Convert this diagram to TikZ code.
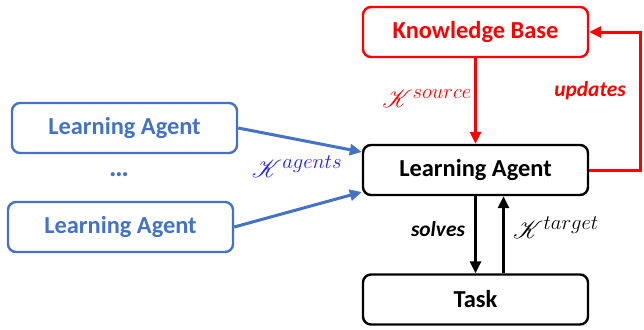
\documentclass[tikz,border=0pt]{standalone}
\usepackage{mathrsfs}
\usepackage{fontspec}
\setmainfont{Carlito}
\usetikzlibrary{arrows.meta}
\definecolor{agentblue}{RGB}{68,114,196}
\definecolor{kbred}{RGB}{255,0,0}
\definecolor{mathblue}{RGB}{30,30,255}
\tikzset{
  box/.style={draw, line width=2.4bp, rounded corners=8bp, minimum width=225bp,
    minimum height=50bp, font=\fontsize{24.5}{28}\selectfont\bfseries},
  flow/.style={line width=3bp, -{Triangle[length=12bp,width=11bp]}},
  lbl/.style={font=\fontsize{21.5}{24}\selectfont\bfseries\itshape},
  mlbl/.style={font=\fontsize{28}{30}\selectfont}
}
\begin{document}
\begin{tikzpicture}[x=1bp,y=-1bp]
    \useasboundingbox (0,0) rectangle (644,329);

    % Knowledge base and the agent itself
    \node[box, kbred] (kb) at (475.5,32) {Knowledge Base};
    \node[box] (agent) at (475.5,170) {Learning Agent};
    \node[box] (task) at (475.5,299.5) {Task};

    % Other agents
    \node[box, agentblue] (peerA) at (124.5,128) {Learning Agent};
    \node[box, agentblue] (peerB) at (120.5,227) {Learning Agent};
    \node[agentblue, font=\fontsize{28}{30}\selectfont\bfseries] (dots) at (119,175) {\dots};

    % Knowledge from other agents
    \draw[flow, agentblue] (peerA.east) -- ([yshift=18bp]agent.west);
    \draw[flow, agentblue] (peerB.east) -- ([yshift=-22bp]agent.west);
    \node[mlbl, mathblue] (kagents) at (297,167) {$\mathscr{K}^{agents}$};

    % Knowledge from the base
    \draw[flow, kbred] (kb.south) -- (agent.north);
    \node[mlbl, kbred] (ksource) at (427,99) {$\mathscr{K}^{source}$};

    % Updates loop
    \coordinate (loop) at (640,170);
    \draw[flow, kbred] (agent.east) -- (loop) |- (kb.east);
    \node[lbl, kbred] (updates) at (590,91) {updates};

    % Task
    \draw[flow] (agent.south) -- (task.north);
    \draw[flow] ([xshift=28bp]task.north) -- ([xshift=28bp]agent.south);
    \node[lbl] (solves) at (438,229) {solves};
    \node[mlbl] (ktarget) at (556,228) {$\mathscr{K}^{target}$};
\end{tikzpicture}
\end{document}
